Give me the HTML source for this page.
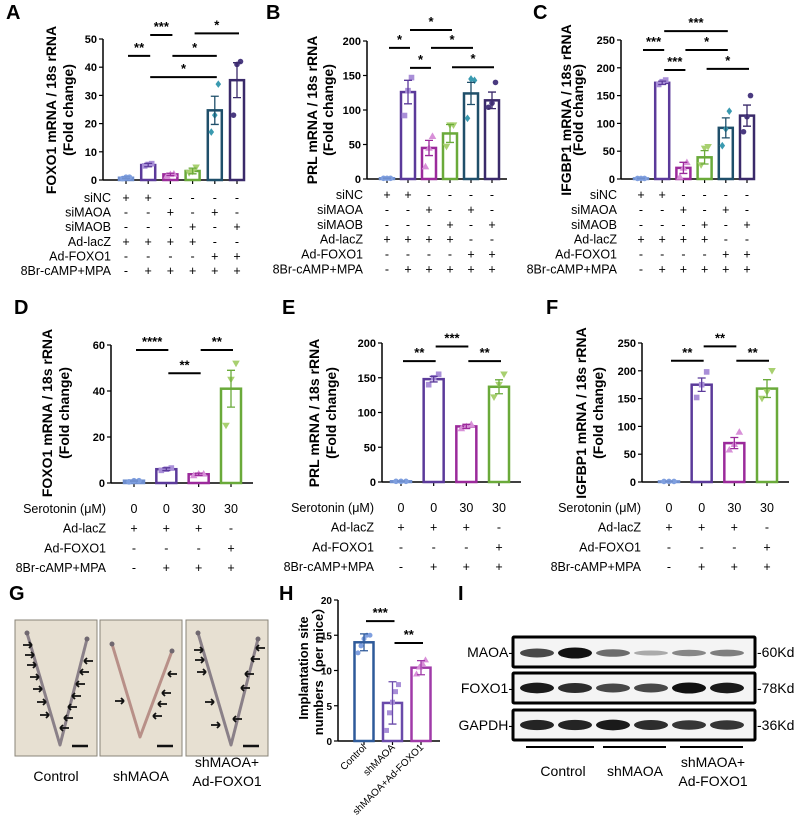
<!DOCTYPE html>
<html><head><meta charset="utf-8">
<style>
html,body{margin:0;padding:0;background:#fff;}
svg{display:block;font-family:"Liberation Sans",Arial,sans-serif;}
</style></head>
<body>
<svg id="fig" width="800" height="833" viewBox="0 0 800 833" xmlns="http://www.w3.org/2000/svg">
<g id="layer"></g>
</svg>
<script>
// ---- data ----
const groupsABC = ["siNC-ctrl","siNC","siMAOA","siMAOB","siMAOA+FOXO1","siMAOB+FOXO1"];
const aMeans = [0.8, 5.3, 2.0, 3.2, 24.7, 35.4];
const aErr = [0.3, 0.6, 0.4, 1.0, 5.0, 6.2];
const aPts = [[0.5,1,1],[5,5.5,5.8],[1.5,2,2.2],[2.5,3,4.5],[17,23,34],[23,41,42]];
const aTicks = [0,10,20,30,40,50];
const bMeans = [1, 126, 45, 66, 124, 114];
const bErr = [0.5, 17, 11, 13, 16, 12];
const bPts = [[1,1,1],[92,128,147],[18,45,62],[47,78,78],[88,145,143],[104,110,140]];
const bTicks = [0,50,100,150,200];
const cMeans = [1, 173, 20, 39, 92, 114];
const cErr = [0.5, 3, 10, 12, 18, 19];
const cPts = [[1,1,1],[170,175,178],[4,20,30],[25,55,58],[60,90,122],[85,112,150]];
const cTicks = [0,50,100,150,200,250];
const dMeans = [1, 6, 3.8, 41];
const dErr = [0.3, 0.6, 0.5, 8];
const dPts = [[0.5,1,1],[5.5,6,6.5],[3.3,4,4],[25,45,52]];
const dTicks = [0,20,40,60];
const eMeans = [1, 148, 80, 137];
const eErr = [0.5, 4, 3, 10];
const ePts = [[1,1,1],[140,150,155],[77,80,83],[122,140,155]];
const eTicks = [0,50,100,150,200];
const fMeans = [1, 175, 70, 168];
const fErr = [0.5, 12, 10, 16];
const fPts = [[1,1,1],[152,175,198],[58,68,90],[150,162,200]];
const fTicks = [0,50,100,150,200,250];
const hCats = ["Control","shMAOA","shMAOA+Ad-FOXO1"];
const hMeans = [14, 5.4, 10.4];
const hErr = [1.2, 3, 1];
const hPts = [[12.5,13.5,14.5,15,15],[1.5,4,5.5,7,8],[9.5,10.5,11,11.5]];
const hTicks = [0,5,10,15,20];
const aSig = [[0,1,"**",44],[1,2,"***",51.4],[1,4,"*",36.5],[2,4,"*",44],[3,5,"*",52]];
const bSig = [[0,1,"*",190],[1,3,"*",216],[1,2,"*",161],[2,4,"*",190],[3,5,"*",162]];
const cSig = [[0,1,"***",232],[1,4,"***",266],[1,2,"***",196],[2,4,"*",232],[3,5,"*",198]];
const dSig = [[0,1,"****",57.8],[1,2,"**",47.7],[2,3,"**",57.8]];
const eSig = [[0,1,"**",174],[1,2,"***",195],[2,3,"**",174]];
const fSig = [[0,1,"**",218],[1,2,"**",244],[2,3,"**",218]];
const hSig = [[0,1,"***",17],[1,2,"**",13.9]];
const rowsABC = [["siNC","+","+","-","-","-","-"],["siMAOA","-","-","+","-","+","-"],["siMAOB","-","-","-","+","-","+"],["Ad-lacZ","+","+","+","+","-","-"],["Ad-FOXO1","-","-","-","-","+","+"],["8Br-cAMP+MPA","-","+","+","+","+","+"]];
const rowsDEF = [["Serotonin (μM)","0","0","30","30"],["Ad-lacZ","+","+","+","-"],["Ad-FOXO1","-","-","-","+"],["8Br-cAMP+MPA","-","+","+","+"]];

// ---- styles (not data) ----
const barColsABC = ["#6f8fcf","#5b3a9a","#9b2a9b","#6aaa3a","#1f4f6a","#3a2a6a"];
const ptColsABC = ["#7f9fdf","#a98fd8","#d890d8","#a8d070","#3a9ab0","#4a3a80"];
const shapesABC = ["circle","square","tri","itri","diamond","circle"];
const barColsDEF = ["#6f8fcf","#5b3a9a","#9b2a9b","#6aaa3a"];
const ptColsDEF = ["#7f9fdf","#a98fd8","#d890d8","#a8d070"];
const shapesDEF = ["circle","square","tri","itri"];

const NS="http://www.w3.org/2000/svg";
const root=document.getElementById('layer');
function mk(tag,attrs,parent,text){const e=document.createElementNS(NS,tag);for(const k in attrs)e.setAttribute(k,attrs[k]);if(text!==undefined)e.textContent=text;(parent||root).appendChild(e);return e;}

function marker(g,shape,x,y,col,r){
  let e;
  if(shape==="circle") e=mk('circle',{cx:x,cy:y,r:r,fill:col},g);
  else if(shape==="square") e=mk('rect',{x:x-r,y:y-r,width:2*r,height:2*r,fill:col},g);
  else if(shape==="tri") e=mk('polygon',{points:`${x},${y-r-1} ${x-r-1},${y+r} ${x+r+1},${y+r}`,fill:col},g);
  else if(shape==="itri") e=mk('polygon',{points:`${x},${y+r+1} ${x-r-1},${y-r} ${x+r+1},${y-r}`,fill:col},g);
  else e=mk('polygon',{points:`${x},${y-r-1} ${x+r},${y} ${x},${y+r+1} ${x-r},${y}`,fill:col},g);
  
  
}

function panel(p){
  const g=mk('g',{});
  
  
  const ymax=p.ticks[p.ticks.length-1];
  const Y=v=>p.y0-(v/ymax)*(p.y0-p.yTop);
  const n=p.means.length;
  const X=i=>p.xFirst+i*(p.xLast-p.xFirst)/(n-1);
  const L=mk('text',{x:p.letter[1],y:p.letter[2],'font-size':20,'font-weight':'bold'},g,p.letter[0]);
  
  
  const ya=mk('line',{x1:p.ax,y1:p.yTop,x2:p.ax,y2:p.y0,stroke:'#000','stroke-width':1.5},g);
  
  
  const xa=mk('line',{x1:p.ax,y1:p.y0,x2:p.axEnd,y2:p.y0,stroke:'#000','stroke-width':1.5},g);
  
  
  p.ticks.forEach(t=>{
    mk('line',{x1:p.ax-4,y1:Y(t),x2:p.ax,y2:Y(t),stroke:'#000','stroke-width':1.2},g);
    const tl=mk('text',{x:p.ax-6,y:Y(t)+4,'font-size':p.tickFs||11,'font-weight':'bold','text-anchor':'end'},g,String(t));
    
    
  });
  for(let i=0;i<n;i++) mk('line',{x1:X(i),y1:p.y0,x2:X(i),y2:p.y0+4,stroke:'#000','stroke-width':1.2},g);
  const tg=mk('text',{transform:`translate(${p.title[0]},${p.title[2]}) rotate(-90)`,'font-size':p.tsize||14,'font-weight':'bold','text-anchor':'middle'},g);
  
  
  mk('tspan',{x:0,y:0},tg,p.title[3]);
  mk('tspan',{x:0,dy:p.title[1]-p.title[0]},tg,p.title[4]);
  for(let i=0;i<n;i++){
    const b=mk('rect',{x:X(i)-p.bw/2,y:Y(p.means[i]),width:p.bw,height:Math.max(0.5,p.y0-Y(p.means[i])),fill:'#fff',stroke:p.barCols[i],'stroke-width':2.5},g);
    
    
  }
  for(let i=0;i<n;i++){
    p.pts[i].forEach((v,k)=>{const off=(k-(p.pts[i].length-1)/2)*p.spread;marker(g,p.shapes[i],X(i)+off,Y(v),p.ptCols[i],p.mr);});
    const hi=Y(p.means[i]+p.err[i]),lo=Y(Math.max(0,p.means[i]-p.err[i]));
    const eb=mk('path',{d:`M${X(i)},${hi}V${lo}M${X(i)-4},${hi}H${X(i)+4}M${X(i)-4},${lo}H${X(i)+4}`,stroke:p.barCols[i],'stroke-width':1.3,fill:'none'},g);
    
    
  }
  p.sig.forEach(s=>{
    const y=Y(s[3]);
    const l=mk('line',{x1:X(s[0])+2,y1:y,x2:X(s[1])+2,y2:y,stroke:'#000','stroke-width':2},g);
    
    
    const t=mk('text',{x:(X(s[0])+X(s[1]))/2+2,y:y-4,'font-size':13,'font-weight':'bold','text-anchor':'middle'},g,s[2]);
    
    
  });
  if(p.rows){
    p.rows.forEach((r,ri)=>{
      const y=p.rowY0+ri*p.rowDy;
      const lab=mk('text',{x:p.rowLabX,y:y,'font-size':p.rowFs,'text-anchor':'end'},g,r[0]);
      
      
      for(let i=1;i<r.length;i++){
        const c=mk('text',{x:X(i-1),y:y,'font-size':p.rowFs,'text-anchor':'middle'},g,r[i]);
        
        
      }
    });
  }
  return {X,Y,g};
}

panel({name:'panel-a-foxo1',letter:['A',6,19],ax:103,axEnd:244,yTop:39,y0:180,xFirst:126,xLast:237,bw:14,means:aMeans,err:aErr,pts:aPts,ticks:aTicks,sig:aSig,barCols:barColsABC,ptCols:ptColsABC,shapes:shapesABC,mr:2.8,spread:3.5,title:[56,73,110,'FOXO1 mRNA / 18s rRNA','(Fold change)'],rows:rowsABC,rowY0:202,rowDy:14.6,rowLabX:111,rowFs:12.5});
panel({name:'panel-b-prl',letter:['B',266,19],ax:367,axEnd:507,yTop:41,y0:179,xFirst:387,xLast:492,bw:14,means:bMeans,err:bErr,pts:bPts,ticks:bTicks,sig:bSig,barCols:barColsABC,ptCols:ptColsABC,shapes:shapesABC,mr:2.8,spread:3.5,title:[317,333,110,'PRL mRNA / 18s rRNA','(Fold change)'],rows:rowsABC,rowY0:199,rowDy:14.9,rowLabX:363,rowFs:12.5});
panel({name:'panel-c-igfbp1',letter:['C',533,19],ax:621,axEnd:753,yTop:40,y0:179,xFirst:641,xLast:747,bw:14,means:cMeans,err:cErr,pts:cPts,ticks:cTicks,sig:cSig,barCols:barColsABC,ptCols:ptColsABC,shapes:shapesABC,mr:2.8,spread:3.5,title:[571,583,110,'IFGBP1 mRNA / 18s rRNA','(Fold change)'],rows:rowsABC,rowY0:199,rowDy:14.9,rowLabX:617,rowFs:12.5});
panel({name:'panel-d-foxo1-serotonin',letter:['D',14,314],ax:111,axEnd:253,yTop:345,y0:483,xFirst:134,xLast:231,bw:20,means:dMeans,err:dErr,pts:dPts,ticks:dTicks,sig:dSig,barCols:barColsDEF,ptCols:ptColsDEF,shapes:shapesDEF,mr:2.8,spread:5,title:[52,69,413,'FOXO1 mRNA / 18s rRNA','(Fold change)'],rows:rowsDEF,rowY0:513,rowDy:19.7,rowLabX:106,rowFs:12.5});
panel({name:'panel-e-prl-serotonin',letter:['E',282,314],ax:382,axEnd:521,yTop:343,y0:482,xFirst:401,xLast:499,bw:20,means:eMeans,err:eErr,pts:ePts,ticks:eTicks,sig:eSig,barCols:barColsDEF,ptCols:ptColsDEF,shapes:shapesDEF,mr:2.8,spread:5,title:[319,336,413,'PRL mRNA / 18s rRNA','(Fold change)'],rows:rowsDEF,rowY0:512,rowDy:19.7,rowLabX:374,rowFs:12.5});
panel({name:'panel-f-igfbp1-serotonin',letter:['F',546,314],ax:642,axEnd:789,yTop:343,y0:482,xFirst:669,xLast:767,bw:20,means:fMeans,err:fErr,pts:fPts,ticks:fTicks,sig:fSig,barCols:barColsDEF,ptCols:ptColsDEF,shapes:shapesDEF,mr:2.8,spread:5,title:[586,603,413,'IGFBP1 mRNA / 18s rRNA','(Fold change)'],rows:rowsDEF,rowY0:512,rowDy:19.7,rowLabX:641,rowFs:12.5});
const H=panel({name:'panel-h-implantation',letter:['H',279,600],ax:338,axEnd:440,yTop:600,y0:741,xFirst:364,xLast:421,bw:19,means:hMeans,err:hErr,pts:hPts,ticks:hTicks,sig:hSig,barCols:["#2e5a9a","#6a4aaa","#a03aa8"],ptCols:["#7f9fdf","#a98fd8","#d890d8"],shapes:["circle","square","tri"],mr:2.5,spread:3,title:[308,323,668,'Implantation site','numbers\uFF08per mice\uFF09'],tsize:13,tickFs:10});
hCats.forEach((c,i)=>{
  const t=mk('text',{transform:`translate(${H.X(i)+3},${748}) rotate(-45)`,'font-size':10,'text-anchor':'end'},H.g,c);
  
  
});

// ---- G photos ----
const photos=[[15,'Control',[8,8],[[28,645],[30,655],[32,665],[35,677],[38,689],[42,702],[45,715]],[[88,661],[84,672],[80,684],[76,696],[72,707],[68,718],[64,728]]],
[100,'shMAOA',[0,0],[[120,701]],[[172,674],[166,693],[162,704],[157,716]]],
[186,'shMAOA+\nAd-FOXO1',[0,0],[[199,650],[200,660],[202,672],[210,702],[216,725]],[[260,648],[255,659],[249,674],[245,688],[237,719]]]];
photos.forEach((ph,pi)=>{
  const x=ph[0];
  const g=mk('g',{});
  
  
  mk('rect',{x:x,y:620,width:82,height:136,fill:'#e7e0d2',stroke:'#8a8478','stroke-width':1},g);
  const col=pi===1?'#b89088':'#8a8088';
  const tx=x+12, ty=pi===1?644:633, bx=x+(pi===1?40:45), by=pi===1?737:745, rx=x+72, ry=pi===1?651:639;
  mk('polyline',{points:`${tx},${ty} ${bx},${by} ${rx},${ry}`,fill:'none',stroke:col,'stroke-width':3,'stroke-linejoin':'round'},g);
  mk('circle',{cx:tx,cy:ty,r:2.5,fill:'#706870'},g);
  mk('circle',{cx:rx,cy:ry,r:2.5,fill:'#706870'},g);
  mk('line',{x1:x+57,y1:746,x2:x+73,y2:746,stroke:'#111','stroke-width':2.5},g);
  ph[3].forEach(a=>{const ax=a[0],ay=a[1];mk('path',{d:`M${ax-5},${ay}H${ax+3}M${ax+4},${ay}l-3,-3M${ax+4},${ay}l-3,3`,stroke:'#111','stroke-width':1.8,fill:'none'},g);});
  ph[4].forEach(a=>{const ax=a[0],ay=a[1];mk('path',{d:`M${ax+5},${ay}H${ax-3}M${ax-4},${ay}l3,-3M${ax-4},${ay}l3,3`,stroke:'#111','stroke-width':1.8,fill:'none'},g);});
  const lines=ph[1].split('\n');
  lines.forEach((ln,k)=>{
    const t=mk('text',{x:x+41,y:(lines.length===1?781:767+k*19),'font-size':14,'text-anchor':'middle'},g,ln);
    
    
  });
});
const GL=mk('text',{x:9,y:600,'font-size':20,'font-weight':'bold'},root,'G');



// ---- I western blot ----
const wbLabels=["MAOA","FOXO1","GAPDH"];
const wbKd=["-60Kd","-78Kd","-36Kd"];
const wbBandW=[[0.7,1,0.5,0.15,0.35,0.4],[0.95,0.85,0.7,0.7,1,0.95],[0.9,0.9,0.95,0.85,0.8,0.8]];
const IL=mk('text',{x:458,y:600,'font-size':20,'font-weight':'bold'},root,'I');


const wbY=[637,673,710];
wbLabels.forEach((lb,r)=>{
  const g=mk('g',{});
  
  
  const y=wbY[r];
  mk('rect',{x:513,y:y,width:242,height:30,fill:'#f4f4f4',stroke:'#000','stroke-width':3,rx:1},g);
  wbBandW[r].forEach((w,i)=>{
    const cx=537+i*38;
    mk('ellipse',{cx:cx,cy:y+15+(r===0?1:0),rx:17,ry:2+3.5*w,fill:'#111','fill-opacity':0.2+0.8*w},g);
  });
  const t=mk('text',{x:513,y:y+20,'font-size':14,'text-anchor':'end'},g,lb+'-');
  
  
  const k=mk('text',{x:757,y:y+20,'font-size':14},g,wbKd[r]);
  
  
});
[[526,594,'Control',563,776],[603,666,'shMAOA',635,776],[680,743,'shMAOA+',713,767]].forEach(u=>{
  mk('line',{x1:u[0],y1:747,x2:u[1],y2:747,stroke:'#000','stroke-width':2});
  const t=mk('text',{x:u[3],y:u[4],'font-size':14,'text-anchor':'middle'},root,u[2]);
  
  
});
const t2=mk('text',{x:713,y:786,'font-size':14,'text-anchor':'middle'},root,'Ad-FOXO1');


</script>
</body></html>
